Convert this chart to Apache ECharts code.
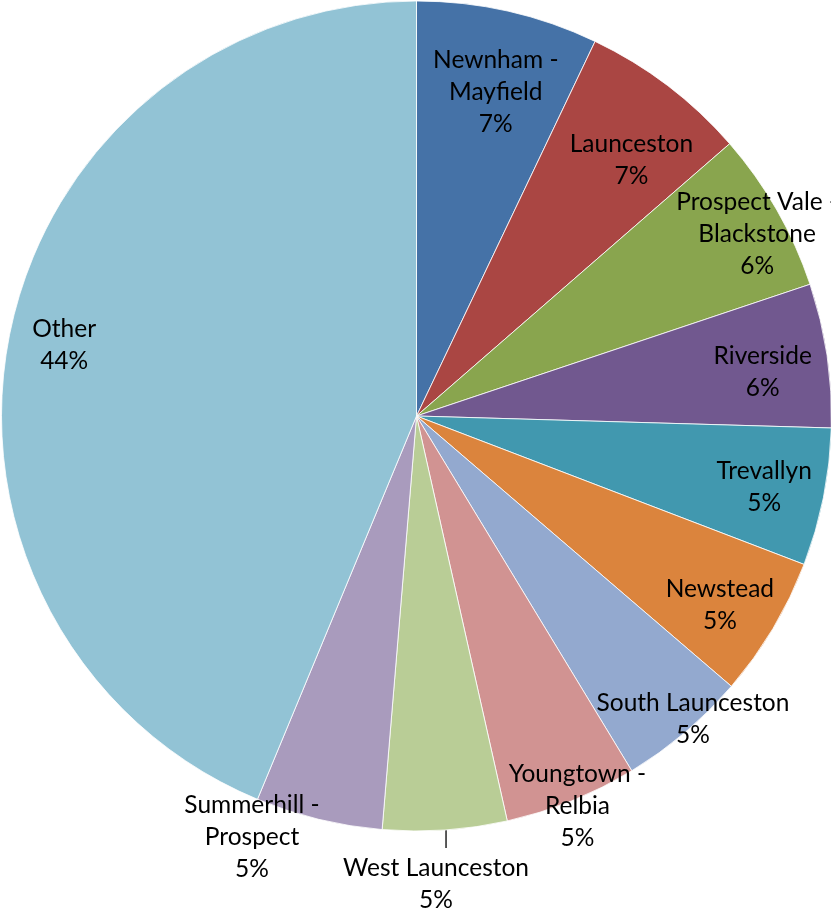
<!DOCTYPE html>
<html>
<head>
<meta charset="utf-8">
<title>Regions</title>
<script src="https://cdn.jsdelivr.net/npm/echarts@6/dist/echarts.min.js"></script>
<style>
  html, body { margin: 0; padding: 0; background: #ffffff; }
  #chart { width: 831px; height: 912px; }
</style>
</head>
<body>
<div id="chart"></div>
<script>
// Share of residents by region (%)
const regions = [
  'Newnham - Mayfield', 'Launceston', 'Prospect Vale - Blackstone', 'Riverside',
  'Trevallyn', 'Newstead', 'South Launceston', 'Youngtown - Relbia',
  'West Launceston', 'Summerhill - Prospect', 'Other'
];
const shares = [7.08, 6.53, 6.25, 5.60, 5.36, 5.47, 5.03, 5.17, 4.83, 4.94, 43.74];

const palette = [
  '#4572A7', '#AA4643', '#89A54E', '#71588F', '#4198AF', '#DB843D',
  '#93A9CF', '#D19392', '#B9CD96', '#A99BBD', '#92C3D5'
];

// Label placement: distance from centre (fraction of radius) and angular nudge (deg)
const labelRadius = [0.804, 0.805, 0.93, 0.841, 0.855, 0.861, 0.988, 1.016, null, 1.089, 0.866];
const labelTurn   = [1.0, 2.8, 1.7, 1.2, 0.2, 1.1, -2.1, -0.5, 0, 7.7, 0.1];

const CX = 416.5, CY = 416, R = 415;

const chart = echarts.init(document.getElementById('chart'), null, { renderer: 'canvas' });

const data = regions.map((name, i) => {
  const item = { name: name, value: shares[i] };
  if (labelRadius[i] === null) {
    item.label = { position: 'outside' };
    item.labelLine = { show: true, length: 17, length2: 0,
      lineStyle: { color: '#000000', width: 1.3 } };
  }
  return item;
});

chart.setOption({
  backgroundColor: '#ffffff',
  animation: false,
  color: palette,
  series: [{
    type: 'pie',
    center: [CX, CY],
    radius: [0, R],
    startAngle: 90,
    clockwise: true,
    avoidLabelOverlap: false,
    itemStyle: { borderColor: '#ffffff', borderWidth: 0.8 },
    label: {
      show: true,
      position: 'inside',
      color: '#000000',
      fontFamily: 'Lato',
      fontSize: 24.5,
      lineHeight: 32,
      align: 'center',
      formatter: (p) => p.name.replace(' - ', ' -\n') + '\n' + Math.round(p.percent) + '%'
    },
    labelLine: { show: false },
    labelLayout: function (p) {
      const i = p.dataIndex;
      if (labelRadius[i] === null) {
        // short vertical leader from the slice rim, text centred below it
        const start = p.labelLinePoints[0];
        const tip = [start[0] + 1, start[1] + 18];
        return {
          x: tip[0] - 10, y: tip[1] + 4,
          align: 'center', verticalAlign: 'top',
          labelLinePoints: [[start[0] + 1, start[1]], tip, tip]
        };
      }
      const lr = p.labelRect;
      const lx = lr.x + lr.width / 2, ly = lr.y + lr.height / 2;
      const theta = Math.atan2(lx - CX, -(ly - CY)) + labelTurn[i] * Math.PI / 180;
      const d = labelRadius[i] * R;
      return {
        x: CX + d * Math.sin(theta),
        y: CY - d * Math.cos(theta),
        align: 'center', verticalAlign: 'middle'
      };
    },
    data: data
  }]
});
</script>
</body>
</html>
